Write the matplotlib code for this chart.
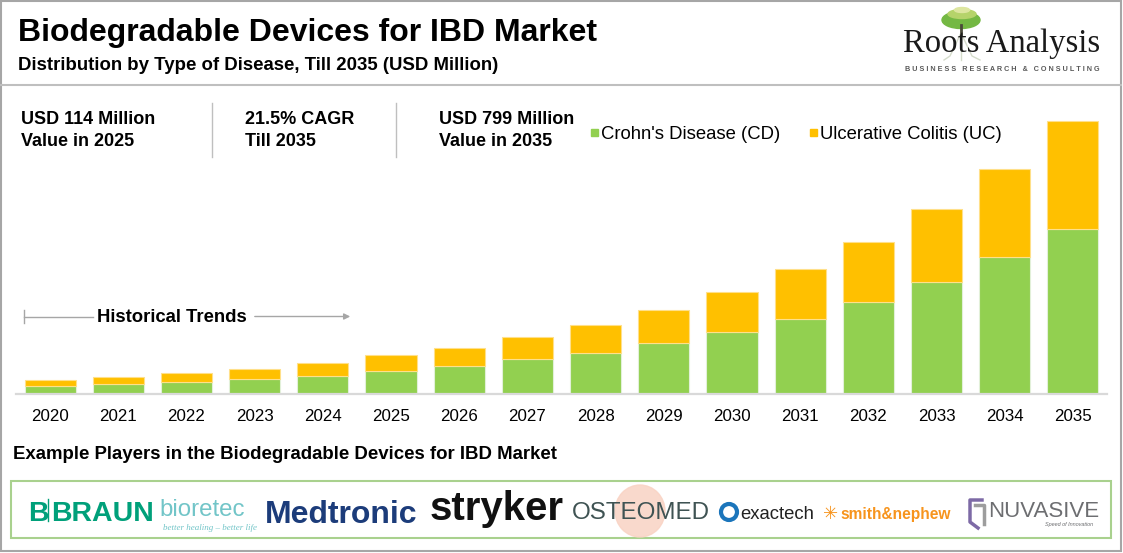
import matplotlib
matplotlib.use("Agg")
import matplotlib.pyplot as plt
from matplotlib.patches import Rectangle, Ellipse, Circle, FancyArrowPatch
import numpy as np

plt.rcParams['font.family'] = ['Liberation Sans', 'DejaVu Sans']

# ---------------- data ----------------
years = ['2020', '2021', '2022', '2023', '2024', '2025', '2026', '2027',
         '2028', '2029', '2030', '2031', '2032', '2033', '2034', '2035']
crohns = [24, 30, 36, 45, 54, 68, 83, 102, 121, 148, 182, 220, 270, 327, 400, 484]
colitis = [17, 20, 25, 28, 37, 46, 52, 65, 81, 98, 117, 146, 175, 214, 259, 315]
series_names = ["Crohn's Disease (CD)", "Ulcerative Colitis (UC)"]
title = "Biodegradable Devices for IBD Market"
subtitle = "Distribution by Type of Disease, Till 2035 (USD Million)"
stats = [("USD 114 Million", "Value in 2025"),
         ("21.5% CAGR", "Till 2035"),
         ("USD 799 Million", "Value in 2035")]
players_title = "Example Players in the Biodegradable Devices for IBD Market"

GREEN = '#92d050'
ORANGE = '#ffc000'
GRAY = '#a6a6a6'

W, H = 1123, 553
fig = plt.figure(figsize=(W / 100, H / 100), dpi=100)

# ---------------- bar chart ----------------
base_y, top_y = 394, 100
left_x, right_x = 16, 1107
ax = fig.add_axes([left_x / W, (H - base_y) / H, (right_x - left_x) / W, (base_y - top_y) / H])
x = np.arange(len(years))
ax.bar(x, crohns, width=0.75, color=GREEN, edgecolor='#e2f0d9', linewidth=0.8, zorder=2)
ax.bar(x, colitis, bottom=crohns, width=0.75, color=ORANGE, edgecolor='#ffe08a', linewidth=0.8, zorder=2)
ax.set_xlim(-0.5, len(years) - 0.5)
ax.set_ylim(0, 799 * (base_y - top_y) / 273)
for s in ['top', 'right', 'left']:
    ax.spines[s].set_visible(False)
ax.spines['bottom'].set_color('#d9d9d9')
ax.spines['bottom'].set_linewidth(1.6)
ax.set_yticks([])
ax.set_xticks(x)
ax.set_xticklabels(years, fontsize=12.2)
ax.tick_params(axis='x', length=0, pad=10.5)
ax.patch.set_alpha(0)

# ---------------- overlay in pixel coordinates ----------------
ov = fig.add_axes([0, 0, 1, 1], zorder=5)
ov.set_xlim(0, W)
ov.set_ylim(H, 0)
ov.axis('off')
ov.patch.set_alpha(0)

# outer border and header separator
ov.add_patch(Rectangle((1, 1), W - 3, H - 3, fill=False, edgecolor=GRAY, linewidth=1.5))
ov.plot([1, W - 2], [85, 85], color='#bfbfbf', linewidth=1.5)

# title
ov.text(18, 41, title, fontsize=23, fontweight='bold', va='baseline', ha='left')
ov.text(18, 70, subtitle, fontsize=13.4, fontweight='bold', va='baseline', ha='left')

# logo: tree + Roots Analysis
ov.plot([961, 950, 944], [33, 56, 60], color='#d5dccb', linewidth=1, zorder=2)
ov.plot([961, 972, 980], [33, 56, 60], color='#d5dccb', linewidth=1, zorder=2)
ov.plot([961, 961], [36, 60], color='#d5dccb', linewidth=1, zorder=2)
ov.add_patch(Ellipse((961, 20), 38, 17, color='#74b843', zorder=3))
ov.add_patch(Ellipse((962, 14), 28, 9, color='#b5d36a', zorder=4))
ov.add_patch(Ellipse((962, 10), 15, 5, color='#dde6a0', zorder=4))
ov.plot([961, 961], [25, 34], color='#4a4a3a', linewidth=2, zorder=4)
ov.text(1002, 52, "Roots Analysis", family=['Liberation Serif', 'DejaVu Serif'],
        fontsize=23.5, va='baseline', ha='center', color='#1a1a1a', zorder=5)
ov.text(1002, 71, "B U S I N E S S   R E S E A R C H   &   C O N S U L T I N G",
        fontsize=5.2, va='baseline', ha='center', color='#595959', fontweight='bold')

# stats
stat_x = [21, 245, 439]
for (l1, l2), sx in zip(stats, stat_x):
    ov.text(sx, 124, l1, fontsize=13, fontweight='bold', va='baseline')
    ov.text(sx, 146, l2, fontsize=13, fontweight='bold', va='baseline')
for dx in [212, 396]:
    ov.plot([dx, dx], [103, 157], color='#bfbfbf', linewidth=1)

# legend
leg_x = [591, 810]
for lx, name, col in zip(leg_x, series_names, [GREEN, ORANGE]):
    ov.add_patch(Rectangle((lx, 129), 7, 7, color=col))
    ov.text(lx + 10, 139, name, fontsize=13.3, va='baseline')

# historical trends
ov.plot([24, 24], [310, 323], color=GRAY, linewidth=1)
ov.plot([24, 93], [316.5, 316.5], color=GRAY, linewidth=1)
ov.text(97, 322, "Historical Trends", fontsize=13.3, fontweight='bold', va='baseline')
ov.add_patch(FancyArrowPatch((252, 316.5), (353, 316.5), arrowstyle='-|>', mutation_scale=9,
                             color=GRAY, linewidth=1))

# example players
ov.text(13, 459, players_title, fontsize=13.4, fontweight='bold', va='baseline')
ov.add_patch(Rectangle((11, 481), 1100, 57, fill=False, edgecolor='#a9d18e', linewidth=1.5))

# logos as text
cy = 511
ov.text(28, cy + 10, "B", fontsize=20.5, fontweight='bold', color='#00a07a', va='baseline')
ov.plot([48, 48], [cy - 12, cy + 10], color='#00a07a', linewidth=1)
ov.text(51, cy + 10, "BRAUN", fontsize=20.5, fontweight='bold', color='#00a07a', va='baseline')
ov.text(159, cy + 5, "bioretec", fontsize=17.3, color='#72c5c8', va='baseline')
ov.text(163, cy + 19, "better healing \u2013 better life", fontsize=6.5, style='italic',
        family=['Liberation Serif'], color='#72c5c8', va='baseline')
ov.text(265, cy + 12, "Medtronic", fontsize=23, fontweight='bold', color='#1c3c7a', va='baseline')
ov.text(430, cy + 9, "stryker", fontsize=29, fontweight='bold', color='#111111', va='baseline')
ov.add_patch(Ellipse((640, 511), 50, 52, color='#f9d3c4', alpha=0.85))
ov.text(572, cy + 8, "OSTEOMED", fontsize=17.4, color='#3f5353', va='baseline')
ov.add_patch(Circle((729, 512), 8, fill=False, edgecolor='#1b75bb', linewidth=3))
ov.text(740, cy + 8, "exactech", fontsize=13.3, color='#222222', va='baseline')
ov.text(823, cy + 8, "\u2733", fontsize=13, color='#f7941d', va='baseline', family=['DejaVu Sans'])
ov.text(840, cy + 8, "smith&nephew", fontsize=11.2, fontweight='bold', color='#f7941d', va='baseline')
ov.plot([982, 970, 970, 978], [500, 500, 522, 528], color='#7d6aa6', linewidth=2.5)
ov.plot([975, 984, 984], [505, 505, 524], color='#9d9d9d', linewidth=2.5)
ov.text(988, cy + 6, "NUVASIVE", fontsize=16, color='#6d6e71', va='baseline')
ov.text(1045, cy + 15, "Speed of Innovation", fontsize=4, style='italic', color='#6d6e71', va='baseline')

fig.savefig("out.png", dpi=100)
